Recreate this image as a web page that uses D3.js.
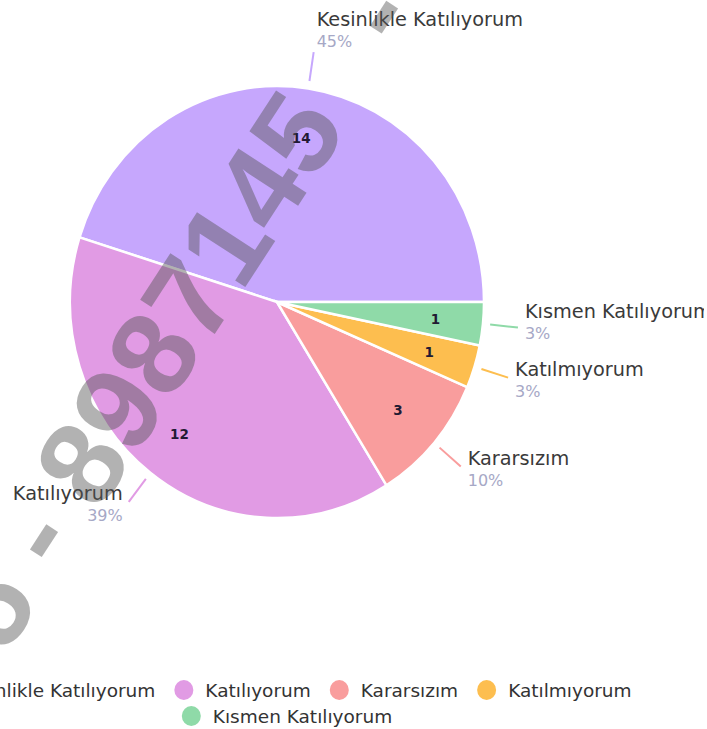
<!DOCTYPE html>
<html>
<head>
<meta charset="utf-8">
<script src="https://cdn.jsdelivr.net/npm/d3@7/dist/d3.min.js"></script>
<style>
  html, body { margin: 0; padding: 0; background: #fff; }
  svg { display: block; overflow: hidden; }
</style>
</head>
<body>
<svg id="chart" width="704" height="729"></svg>
<script>
// Survey answers and their counts
const categories = ["Kesinlikle Katılıyorum", "Katılıyorum", "Kararsızım", "Katılmıyorum", "Kısmen Katılıyorum"];
const counts = [14, 12, 3, 1, 1];
const colors = ["#c6a7fd", "#e19be4", "#f99d9d", "#fdbe4f", "#8fdaa8"];
const watermarkParts = ["5 - 8987145", " -"];

const svg = d3.select("#chart");
const cx = 277, cy = 302, rx = 207, ry = 216;
const sy = ry / rx;
const FONT = "'DejaVu Sans', Verdana, sans-serif";

const data = categories.map((c, i) => ({ name: c, value: counts[i], color: colors[i] }));
const total = d3.sum(counts);

// Counter-clockwise from 3 o'clock
const pie = d3.pie().sort(null).value(d => d.value)
  .startAngle(Math.PI / 2).endAngle(Math.PI / 2 - 2 * Math.PI);
const arcs = pie(data);

const arc = d3.arc().innerRadius(0).outerRadius(rx);

const g = svg.append("g").attr("transform", `translate(${cx},${cy}) scale(1,${sy})`);
g.selectAll("path").data(arcs).join("path")
  .attr("d", arc)
  .attr("fill", d => d.data.color)
  .attr("stroke", "#fff")
  .attr("stroke-width", 2.5)
  .attr("vector-effect", "non-scaling-stroke");

// position on the ellipse at a given fraction of the radius
function pt(a, f) {
  return [cx + Math.sin(a) * rx * f, cy - Math.cos(a) * ry * f];
}
const mid = d => (d.startAngle + d.endAngle) / 2;

// counts inside the slices
svg.append("g").selectAll("text").data(arcs).join("text")
  .attr("x", d => pt(mid(d), 0.77)[0])
  .attr("y", d => pt(mid(d), 0.77)[1])
  .attr("text-anchor", "middle")
  .attr("dominant-baseline", "central")
  .attr("font-family", FONT)
  .attr("font-weight", "bold")
  .attr("font-size", 13.5)
  .attr("fill", "#221a33")
  .text(d => d.value);

// leader lines and outer labels
const labels = arcs.map(d => {
  const a = mid(d);
  const p0 = pt(a, 1.035), p1 = pt(a, 1.17);
  const right = Math.sin(a) >= 0;
  const top = Math.cos(a) > 0.9;
  return { d, a, p0, p1, right, top, y: top ? p1[1] - 26 : p1[1] - 2 };
});
// keep right-side labels apart
const rightSide = labels.filter(l => l.right && !l.top).sort((a, b) => b.y - a.y);
for (let i = 1; i < rightSide.length; i++) {
  const gap = 58;
  if (rightSide[i - 1].y - rightSide[i].y < gap) rightSide[i].y = rightSide[i - 1].y - gap;
}

const lg = svg.append("g");
lg.selectAll("line").data(labels).join("line")
  .attr("x1", l => l.p0[0]).attr("y1", l => l.p0[1])
  .attr("x2", l => l.p1[0]).attr("y2", l => l.p1[1])
  .attr("stroke", l => l.d.data.color)
  .attr("stroke-width", 2);

labels.forEach(l => {
  const x = l.right ? l.p1[0] + (l.top ? 3 : 7) : l.p1[0] - 6;
  const anchor = l.right ? "start" : "end";
  lg.append("text")
    .attr("x", x).attr("y", l.y)
    .attr("text-anchor", anchor)
    .attr("font-family", FONT)
    .attr("font-size", 19.3)
    .attr("fill", "#3a3a3a")
    .text(l.d.data.name);
  lg.append("text")
    .attr("x", x).attr("y", l.y + 21)
    .attr("text-anchor", anchor)
    .attr("font-family", FONT)
    .attr("font-size", 16)
    .attr("fill", "#a6a8c6")
    .text(Math.round(l.d.data.value / total * 100) + "%");
});

// legend, wrapped into centred rows
const legend = svg.append("g");
const LFS = 18.5, dot = 9.5, dotGap = 12, itemGap = 19, maxRow = 740;
const tmp = legend.append("text").attr("font-family", FONT).attr("font-size", LFS);
const items = data.map(d => {
  tmp.text(d.name);
  const tw = tmp.node().getComputedTextLength();
  return { d, tw, w: dot * 2 + dotGap + tw };
});
tmp.remove();
const rows = [];
let cur = [], curW = 0;
items.forEach(it => {
  const add = (cur.length ? itemGap : 0) + it.w;
  if (cur.length && curW + add > maxRow) { rows.push({ items: cur, w: curW }); cur = []; curW = 0; }
  curW += (cur.length ? itemGap : 0) + it.w;
  cur.push(it);
});
rows.push({ items: cur, w: curW });
rows.forEach((row, ri) => {
  let x = (ri === 0 ? 279 : 287) - row.w / 2;
  const y = 690 + ri * 26;
  row.items.forEach(it => {
    legend.append("ellipse")
      .attr("cx", x + dot).attr("cy", y)
      .attr("rx", dot).attr("ry", dot * 1.05)
      .attr("fill", it.d.color);
    legend.append("text")
      .attr("x", x + dot * 2 + dotGap).attr("y", y)
      .attr("dominant-baseline", "central")
      .attr("font-family", FONT).attr("font-size", LFS)
      .attr("fill", "#333")
      .text(it.d.name);
    x += it.w + itemGap;
  });
});

// diagonal watermark across the chart
const wm = svg.append("text")
  .attr("transform", "translate(-29,634) rotate(-57)")
  .attr("text-anchor", "start")
  .attr("dominant-baseline", "central")
  .attr("font-family", "'Liberation Sans', Arial, sans-serif")
  .attr("font-weight", "bold")
  .attr("font-size", 118)
  .attr("fill", "#555")
  .attr("fill-opacity", 0.45)
  .attr("xml:space", "preserve");
wm.append("tspan").text(watermarkParts[0]);
wm.append("tspan").attr("dx", 60).text(watermarkParts[1]);
</script>
</body>
</html>
